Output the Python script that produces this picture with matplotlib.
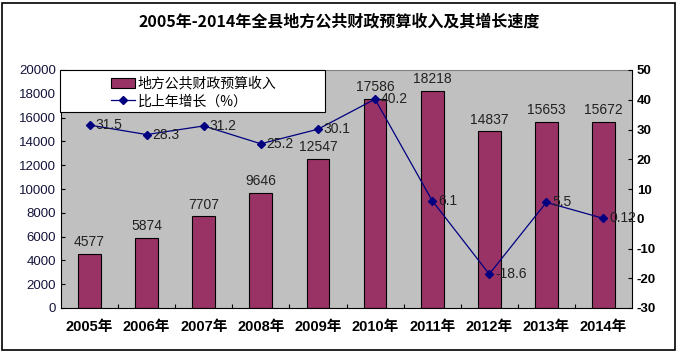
import matplotlib
matplotlib.use("Agg")
import matplotlib.pyplot as plt
from matplotlib.patches import Rectangle
from matplotlib.lines import Line2D
from matplotlib.patches import Patch

plt.rcParams['font.family'] = ['Liberation Sans', 'Noto Sans CJK SC', 'DejaVu Sans']
plt.rcParams['axes.unicode_minus'] = False

years = ['2005年', '2006年', '2007年', '2008年', '2009年', '2010年', '2011年', '2012年', '2013年', '2014年']
revenue = [4577, 5874, 7707, 9646, 12547, 17586, 18218, 14837, 15653, 15672]
growth = [31.5, 28.3, 31.2, 25.2, 30.1, 40.2, 6.1, -18.6, 5.5, 0.12]
growth_labels = ['31.5', '28.3', '31.2', '25.2', '30.1', '40.2', '6.1', '-18.6', '5.5', '0.12']
legend_labels = ['地方公共财政预算收入', '比上年增长（%）']
title = '2005年-2014年全县地方公共财政预算收入及其增长速度'

W, H = 678, 352
fig = plt.figure(figsize=(W/100, H/100), dpi=100)
fig.patch.set_facecolor('white')
fig.add_artist(Rectangle((2/W, 2/H), 673/W, 347/H, transform=fig.transFigure,
                         fill=False, edgecolor='black', linewidth=1.2))

left, right, top, bottom = 61, 632, 70, 308
ax = fig.add_axes([left/W, 1-bottom/H, (right-left)/W, (bottom-top)/H])
ax.set_facecolor('#C0C0C0')
x = list(range(len(years)))
bar_color = '#993366'
line_color = '#000080'
ax.bar(x, revenue, width=0.4, color=bar_color, edgecolor='black', linewidth=0.8, zorder=2)
ax.set_ylim(0, 20000)
ax.set_xlim(-0.5, len(years)-0.5)
ax.set_yticks(range(0, 20001, 2000))
ax.tick_params(axis='y', labelsize=9.5, labelcolor='#14143c', length=3, direction='in')
ax.tick_params(axis='x', length=3, direction='in')
ax.set_xticks([i + 0.5 for i in range(len(years)-1)], minor=False)
ax.set_xticklabels([])
ax.set_xticks(x, minor=True)
ax.set_xticklabels(years, minor=True, fontsize=10.5, fontweight='bold')
ax.tick_params(axis='x', which='minor', length=0, pad=9)
ax.spines['right'].set_visible(False)
ax.spines['left'].set_color('black')
ax.spines['bottom'].set_color('black')
ax.spines['top'].set_color('#808080')
ax.spines['top'].set_linewidth(0.8)

for i, v in enumerate(revenue):
    ax.text(i, v + 400, str(v), ha='center', va='bottom', fontsize=10, color='#222222', zorder=3)

ax2 = ax.twinx()
ax2.set_ylim(-30, 50)
ax2.set_yticks(range(-30, 51, 10))
ax2.tick_params(axis='y', labelsize=9.5, length=3, direction='in')
for lab in ax2.get_yticklabels():
    lab.set_fontweight('bold')
for s in ['top', 'left', 'bottom']:
    ax2.spines[s].set_visible(False)
ax2.spines['right'].set_color('black')
ax2.plot(x, growth, color=line_color, marker='D', markersize=4.5, linewidth=0.9, zorder=4)
for i, (g, lab) in enumerate(zip(growth, growth_labels)):
    ax2.text(i + 0.1, g, lab, ha='left', va='center', fontsize=10, color='#222222', zorder=5)

ax.set_zorder(1)
ax2.set_zorder(2)
ax2.patch.set_visible(False)

# legend box
bx0 = (60 - left) / (right - left)
bx1 = (325 - left) / (right - left)
by0 = 1 - (112 - top) / (bottom - top)
ax2.add_patch(Rectangle((bx0, by0), bx1 - bx0, 1 - by0, transform=ax2.transAxes,
                        facecolor='white', edgecolor='black', linewidth=0.8, zorder=8, clip_on=False))
handles = [Patch(facecolor=bar_color, edgecolor='black', linewidth=0.8),
           Line2D([], [], color=line_color, marker='D', markersize=4.5, linewidth=0.9)]
leg = ax2.legend(handles, legend_labels, loc='center left',
                 bbox_to_anchor=((111 - left) / (right - left), 1 - (92.5 - top) / (bottom - top)),
                 frameon=False, borderpad=0, borderaxespad=0,
                 prop={'family': ['Noto Sans CJK SC'], 'size': 10},
                 handlelength=1.75, handleheight=0.8, handletextpad=0.15, labelspacing=0.25)
leg.set_zorder(9)

fig.text(0.5, 1-22/H, title, ha='center', va='center',
         fontsize=11.5, fontweight='bold', family=['Noto Sans CJK SC'])

fig.savefig('out.png', dpi=100)
